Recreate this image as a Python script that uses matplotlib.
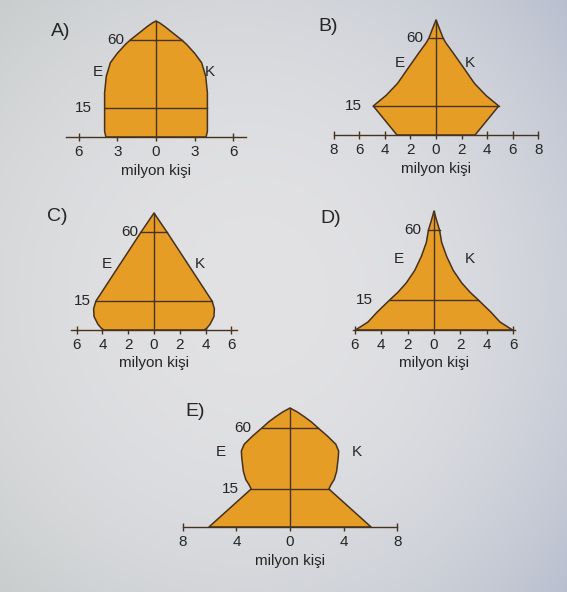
import numpy as np
import matplotlib.pyplot as plt

plt.rcParams['font.family'] = ['Liberation Sans', 'DejaVu Sans']

# Profiles: age (years) and half-width of the pyramid (million people)
a_age = [0, 3, 15, 25, 36, 45, 51, 57, 60, 67, 74, 78, 80]
a_width = [3.9, 4.0, 4.0, 4.0, 3.87, 3.55, 3.03, 2.39, 2.0, 1.35, 0.7, 0.28, 0]

b_age = [0, 15, 22, 30, 41, 50, 57, 60, 70, 80]
b_width = [3.05, 4.9, 3.9, 3.0, 2.1, 1.35, 0.75, 0.55, 0.28, 0]

c_age = [0, 1, 3, 7, 11, 15, 60, 80]
c_width = [3.9, 4.1, 4.35, 4.65, 4.68, 4.5, 1.0, 0]

d_age = [0, 4, 9, 15, 20, 26, 34, 43, 52, 60, 70, 80]
d_width = [5.95, 5.0, 4.3, 3.36, 2.73, 2.1, 1.46, 0.96, 0.58, 0.42, 0.2, 0]

e_age = [0, 15, 18, 22, 28, 38, 43, 48, 54, 60, 66, 71, 76, 80]
e_width = [6.05, 2.9, 3.05, 3.3, 3.48, 3.6, 3.63, 3.42, 2.8, 2.1, 1.6, 1.1, 0.55, 0]

a_ticks = [-6, -3, 0, 3, 6]
b_ticks = [-8, -6, -4, -2, 0, 2, 4, 6, 8]
c_ticks = [-6, -4, -2, 0, 2, 4, 6]
d_ticks = [-6, -4, -2, 0, 2, 4, 6]
e_ticks = [-8, -4, 0, 4, 8]

age_marks = [15, 60]
age_knots = [0, 15, 60, 80]

ORANGE = '#e69d26'
INK = '#47311f'
TEXT = '#262626'

W, H = 567, 592
fig = plt.figure(figsize=(W / 100, H / 100), dpi=100)

# paper background, darker towards the corners
bg = fig.add_axes([0, 0, 1, 1], zorder=-10)
yy, xx = np.mgrid[0:1:240j, 0:1:240j]
r = np.clip(np.hypot((xx - 0.45) / 0.78, (yy - 0.5) / 0.8), 0, 1) ** 2.2
centre = np.array([0.885, 0.885, 0.895])
edge_l = np.array([0.75, 0.77, 0.765])
edge_r = np.array([0.70, 0.73, 0.80])
edge = edge_l + (edge_r - edge_l) * xx[..., None]
img = centre + (edge - centre) * r[..., None]
bg.imshow(img, extent=[0, 1, 0, 1], aspect='auto', origin='upper')
bg.axis('off')

panels = [
    dict(tag='A)', ages=a_age, widths=a_width, ticks=a_ticks, x0=156, unit=12.85,
         base=137, h=[0, 29, 97, 116], lim=7.0, tag_xy=(-8.2, 0.91),
         ek=(-4.5, 4.2, 0.56), lab60=-2.45, lab15=-5.0),
    dict(tag='B)', ages=b_age, widths=b_width, ticks=b_ticks, x0=436, unit=12.8,
         base=135, h=[0, 29, 97, 115], lim=8.0, tag_xy=(-9.2, 0.94),
         ek=(-2.8, 2.65, 0.63), lab60=-1.0, lab15=-5.8),
    dict(tag='C)', ages=c_age, widths=c_width, ticks=c_ticks, x0=154, unit=12.9,
         base=330, h=[0, 29, 98, 117], lim=6.4, tag_xy=(-8.3, 0.97),
         ek=(-3.65, 3.55, 0.56), lab60=-1.2, lab15=-4.9),
    dict(tag='D)', ages=d_age, widths=d_width, ticks=d_ticks, x0=434, unit=13.2,
         base=330, h=[0, 30, 100, 119], lim=6.1, tag_xy=(-8.6, 0.94),
         ek=(-2.7, 2.7, 0.6), lab60=-0.95, lab15=-4.6),
    dict(tag='E)', ages=e_age, widths=e_width, ticks=e_ticks, x0=290, unit=13.4,
         base=527, h=[0, 38, 99, 119], lim=8.0, tag_xy=(-7.8, 0.97),
         ek=(-5.2, 5.0, 0.63), lab60=-2.9, lab15=-3.8),
]

for p in panels:
    span = 9.5
    left = p['x0'] - span * p['unit']
    ax = fig.add_axes([left / W, (H - p['base']) / H,
                       2 * span * p['unit'] / W, p['h'][-1] / H])
    hk = p['h']
    ax.set_yscale('function', functions=(
        lambda a, hk=hk: np.interp(a, age_knots, hk),
        lambda v, hk=hk: np.interp(v, hk, age_knots)))
    ax.set_xlim(-span, span)
    ax.set_ylim(0, 80)
    ax.patch.set_visible(False)

    ages = np.array(p['ages'], dtype=float)
    widths = np.array(p['widths'], dtype=float)
    xs = np.concatenate([widths, -widths[::-1]])
    ys = np.concatenate([ages, ages[::-1]])
    ax.fill(xs, ys, facecolor=ORANGE, edgecolor=INK, lw=1.1, zorder=2,
            joinstyle='round', clip_on=False)
    for a in age_marks:
        w = np.interp(a, ages, widths)
        ax.plot([-w, w], [a, a], color=INK, lw=1.0, zorder=3, clip_on=False)
    ax.plot([0, 0], [0, ages[-1]], color=INK, lw=1.0, zorder=3, clip_on=False)

    for s in ('left', 'right', 'top'):
        ax.spines[s].set_visible(False)
    ax.spines['bottom'].set_bounds(-p['lim'], p['lim'])
    ax.spines['bottom'].set_color(INK)
    ax.spines['bottom'].set_linewidth(1.0)
    ax.spines['bottom'].set_zorder(4)
    ax.set_yticks([])
    ax.yaxis.set_minor_locator(plt.NullLocator())
    ax.set_xticks(p['ticks'], [str(abs(t)) for t in p['ticks']])
    ax.tick_params(axis='x', direction='inout', length=6, width=1.0,
                   color=INK, labelsize=11, labelcolor=TEXT, pad=3)
    ax.set_xlabel('milyon kişi', fontsize=11, color=TEXT, labelpad=3)

    xt = ax.get_xaxis_transform()
    ax.text(p['tag_xy'][0], p['tag_xy'][1], p['tag'], transform=xt,
            fontsize=14, color=TEXT, ha='left', va='center')
    ex, kx, ey = p['ek']
    ax.text(ex, ey, 'E', transform=xt, fontsize=11, color=TEXT,
            ha='center', va='center')
    ax.text(kx, ey, 'K', transform=xt, fontsize=11, color=TEXT,
            ha='center', va='center')
    ax.text(p['lab60'], 60, '60', fontsize=11, color=TEXT, ha='right', va='center')
    ax.text(p['lab15'], 15, '15', fontsize=11, color=TEXT, ha='right', va='center')

fig.savefig('out.png', dpi=100)
